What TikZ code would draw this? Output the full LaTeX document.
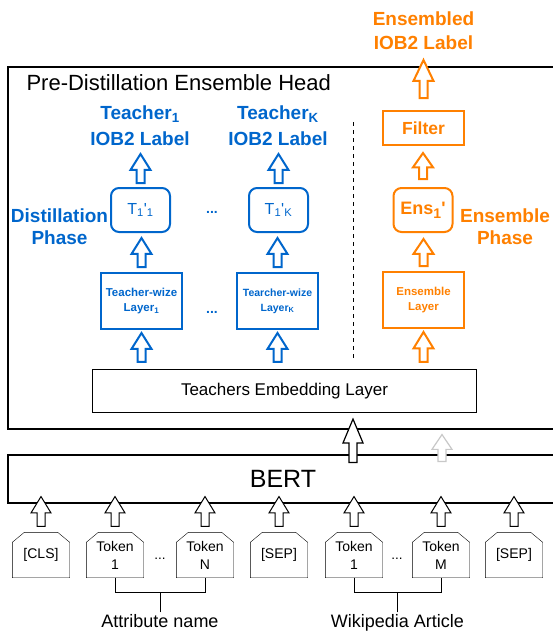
\documentclass[tikz,border=0pt]{standalone}
\usepackage{fontspec}
\setmainfont{Liberation Sans}
\usetikzlibrary{calc,positioning}
\definecolor{kdblue}{RGB}{0,102,204}
\definecolor{kdorange}{RGB}{255,128,0}
\definecolor{kdgray}{RGB}{200,200,200}

\begin{document}
\begin{tikzpicture}[x=1pt,y=1pt,
  plainbox/.style={draw,line width=1.1pt,inner sep=0pt},
  layerbox/.style={draw,line width=2pt,minimum width=81pt,minimum height=56pt,
    inner sep=1pt,align=center,font=\bfseries\fontsize{11.5}{15}\selectfont},
  predbox/.style={draw,line width=2pt,rounded corners=8pt,minimum width=59pt,
    minimum height=44pt,inner sep=1pt},
  lab/.style={inner sep=0pt,align=center,anchor=south},
  tok/.style={minimum width=57pt,minimum height=45pt,inner sep=0pt,align=center,
    font=\fontsize{14}{18}\selectfont,
    append after command={(\tikzlastnode.south west)
      -- ([yshift=-10pt]\tikzlastnode.north west) -- ([xshift=12pt]\tikzlastnode.north west)
      -- ([xshift=-12pt]\tikzlastnode.north east) -- ([yshift=-10pt]\tikzlastnode.north east)
      -- (\tikzlastnode.south east) -- cycle}},
  barrow/.style={fill=white,line join=miter,to path={
    let \p1=(\tikztostart),\p2=(\tikztotarget),\n1={0.55*(\y2-\y1)} in
    (\x1-4pt,\y1) -- (\x1-4pt,\y2-\n1) -- (\x1-10pt,\y2-\n1) -- (\x1,\y2)
    -- (\x1+10pt,\y2-\n1) -- (\x1+4pt,\y2-\n1) -- (\x1+4pt,\y1) -- cycle}}
]
  \path[use as bounding box] (0,0) rectangle (553,-633);
  \clip (0,0) rectangle (553,-633);

  % head and BERT
  \node[plainbox,minimum width=550pt,minimum height=362pt] (head) at (283,-248) {};
  \node[anchor=base west,font=\fontsize{22}{26}\selectfont] (title) at (23,-90)
    {Pre-Distillation Ensemble Head};
  \node[plainbox,minimum width=384pt,minimum height=43pt,font=\fontsize{17}{20}\selectfont]
    (emb) at (284.5,-391) {Teachers Embedding Layer};
  \node[plainbox,minimum width=550pt,minimum height=48pt,font=\fontsize{25}{30}\selectfont]
    (bert) at (283,-479) {BERT};

  % distillation phase
  \node[layerbox,draw=kdblue,text=kdblue] (tw1) at (141.5,-301)
    {Teacher-wize\\Layer\textsubscript{1}};
  \node[layerbox,draw=kdblue,text=kdblue,font=\bfseries\fontsize{10.5}{15}\selectfont]
    (twK) at (277.5,-301) {Tearcher-wize\\Layer\textsubscript{K}};
  \node[predbox,draw=kdblue,text=kdblue,font=\fontsize{16}{18}\selectfont] (tp1) at (140.5,-210)
    {T\textsubscript{1}\textquotesingle\textsubscript{1}};
  \node[predbox,draw=kdblue,text=kdblue,font=\fontsize{16}{18}\selectfont] (tpK) at (278.5,-210)
    {T\textsubscript{1}\textquotesingle\textsubscript{K}};
  \node[lab,text=kdblue,font=\bfseries\fontsize{19}{26}\selectfont] (lab1) at (140,-146)
    {Teacher\textsubscript{1}\\IOB2 Label};
  \node[lab,text=kdblue,font=\bfseries\fontsize{19}{26}\selectfont] (labK) at (278,-146)
    {Teacher\textsubscript{K}\\IOB2 Label};
  \node[lab,text=kdblue,font=\bfseries\fontsize{19}{22}\selectfont] (dphase) at (59.5,-245)
    {Distillation\\Phase};
  \node[anchor=base,text=kdblue,font=\bfseries\fontsize{14}{16}\selectfont] (dots1) at (212,-213) {...};
  \node[anchor=base,text=kdblue,font=\bfseries\fontsize{14}{16}\selectfont] (dots2) at (212,-313) {...};

  % ensemble phase
  \node[layerbox,draw=kdorange,text=kdorange] (el) at (423.5,-300) {Ensemble\\Layer};
  \node[predbox,draw=kdorange,text=kdorange,font=\bfseries\fontsize{18}{20}\selectfont]
    (ens) at (423,-210) {Ens\raisebox{-4pt}{\fontsize{14}{14}\selectfont 1}\textquotesingle};
  \node[layerbox,draw=kdorange,text=kdorange,minimum height=34pt,font=\bfseries\fontsize{17.5}{20}\selectfont]
    (filt) at (423.5,-128) {Filter};
  \node[lab,text=kdorange,font=\bfseries\fontsize{19}{24}\selectfont] (outlab) at (423.5,-50)
    {Ensembled\\IOB2 Label};
  \node[lab,text=kdorange,font=\bfseries\fontsize{19}{22}\selectfont] (ephase) at (505,-245)
    {Ensemble\\Phase};

  \draw[dashed,line width=1pt,dash pattern=on 4pt off 4pt] (353,-122) -- (353,-358);

  % input tokens
  \draw (41,-555) node[tok] (cls) {[CLS]};
  \draw (115,-555) node[tok] (ta1) {Token\\1};
  \draw (205,-555) node[tok] (taN) {Token\\N};
  \draw (279,-555) node[tok] (sep1) {[SEP]};
  \draw (354,-555) node[tok] (tw1b) {Token\\1};
  \draw (441,-555) node[tok] (twM) {Token\\M};
  \draw (514,-555) node[tok] (sep2) {[SEP]};
  \node[anchor=base,font=\fontsize{13.5}{16}\selectfont] (tdots1) at (160,-559) {...};
  \node[anchor=base,font=\fontsize{13.5}{16}\selectfont] (tdots2) at (397,-559) {...};

  \node[anchor=base,inner sep=1.5pt,font=\fontsize{18}{20}\selectfont] (attr) at (160,-627) {Attribute name};
  \node[anchor=base,inner sep=1.5pt,font=\fontsize{18}{20}\selectfont] (wiki) at (397.5,-627) {Wikipedia Article};
  \draw (ta1.south) -- ++(0,-14) coordinate (abr) -| (taN.south);
  \draw (attr.north) -- (attr.north |- abr);
  \draw (tw1b.south) -- ++(0,-14) coordinate (wbr) -| (twM.south);
  \draw (wiki.north) -- (wiki.north |- wbr);

  % arrows
  \foreach \t in {cls,ta1,taN,sep1,tw1b,twM,sep2}
    \draw[barrow,line width=1pt] ($(\t.north)+(0,6)$) to ($(bert.south)+(0,7)$);
  \draw[barrow,line width=1.2pt] ($(bert.north)+(70,-8)$) to ($(emb.south)+(0,-6)$);
  \draw[barrow,draw=kdgray,line width=1.2pt] ($(bert.north)+(159,-7)$) to ($(head.south)+(0,-5)$);
  \foreach \n/\p/\l in {tw1/tp1/lab1,twK/tpK/labK}{
    \draw[barrow,draw=kdblue,line width=2pt] ($(emb.north -| \n)+(0,7)$) to ($(\n.south)+(0,-3)$);
    \draw[barrow,draw=kdblue,line width=2pt] ($(\n.north)+(0,5)$) to ($(\p.south)+(0,-5)$);
    \draw[barrow,draw=kdblue,line width=2pt] ($(\p.north)+(0,4)$) to ($(\l.south)+(0,-8)$);
  }
  \draw[barrow,draw=kdorange,line width=2pt] ($(emb.north -| el)+(0,7)$) to ($(el.south)+(0,-3)$);
  \draw[barrow,draw=kdorange,line width=2pt] ($(el.north)+(0,5)$) to ($(ens.south)+(0,-6)$);
  \draw[barrow,draw=kdorange,line width=2pt] ($(ens.north)+(0,8)$) to ($(filt.south)+(0,-7)$);
  \draw[barrow,draw=kdorange,line width=2pt] ($(filt.north)+(0,12)$) to ($(outlab.south)+(0,-10)$);
\end{tikzpicture}
\end{document}
